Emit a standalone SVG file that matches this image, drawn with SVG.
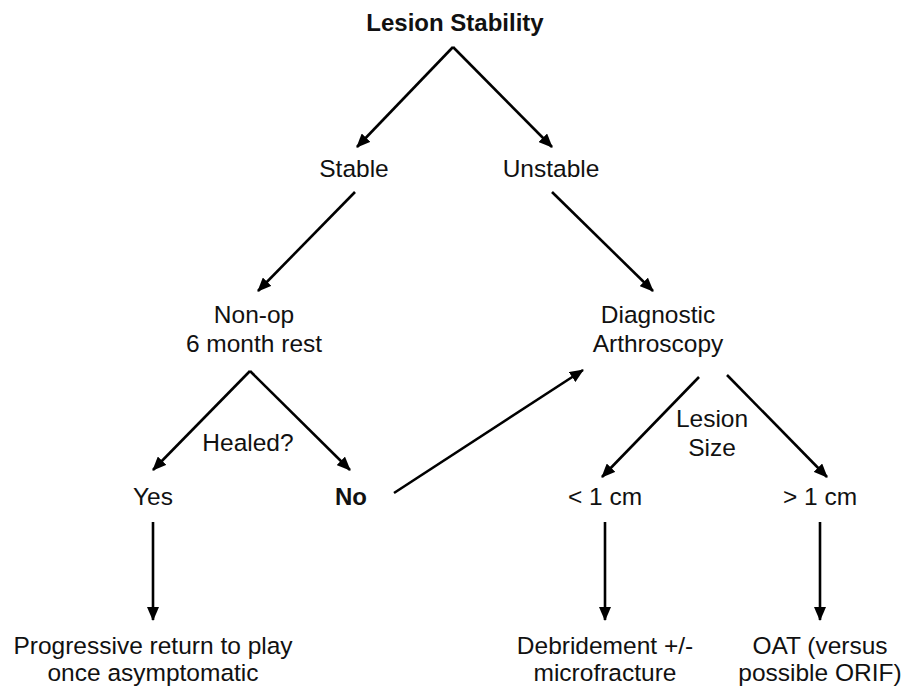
<svg xmlns="http://www.w3.org/2000/svg" width="905" height="686" viewBox="0 0 905 686">
<defs>
<marker id="ah" viewBox="0 0 14 12" refX="13" refY="6" markerWidth="14" markerHeight="12" markerUnits="userSpaceOnUse" orient="auto">
<path d="M0,0 L14,6 L0,12 Z" fill="#000"/>
</marker>
<style>
.t{font-family:"Liberation Sans",Arial,sans-serif;font-size:24.5px;fill:#111;text-anchor:middle}
.b{font-weight:bold;font-size:24px}
.c{stroke:#000;stroke-width:2.6;fill:none;marker-end:url(#ah)}
</style>
</defs>
<rect width="905" height="686" fill="#fff"/>
<g id="connectors">
<line class="c" x1="453" y1="47" x2="357" y2="147"/>
<line class="c" x1="453" y1="47" x2="552" y2="147"/>
<line class="c" x1="355" y1="192" x2="258" y2="291"/>
<line class="c" x1="552" y1="192" x2="653" y2="291"/>
<line class="c" x1="250" y1="371" x2="153" y2="470"/>
<line class="c" x1="250" y1="371" x2="350" y2="470"/>
<line class="c" x1="394" y1="493" x2="583" y2="370"/>
<line class="c" x1="699" y1="377" x2="602" y2="477"/>
<line class="c" x1="727" y1="375" x2="827" y2="477"/>
<line class="c" x1="153" y1="522" x2="153" y2="620"/>
<line class="c" x1="605" y1="522" x2="605" y2="620"/>
<line class="c" x1="820" y1="522" x2="820" y2="620"/>
</g>
<g id="lesion-stability"><text class="t b" x="455" y="31">Lesion Stability</text></g>
<g id="stable"><text class="t" x="354" y="177">Stable</text></g>
<g id="unstable"><text class="t" x="551" y="177">Unstable</text></g>
<g id="non-op"><text class="t" x="254" y="323">Non-op</text><text class="t" x="254" y="352">6 month rest</text></g>
<g id="diagnostic"><text class="t" x="658" y="323">Diagnostic</text><text class="t" x="658" y="352">Arthroscopy</text></g>
<g id="healed"><text class="t" x="248" y="451">Healed?</text></g>
<g id="lesion-size"><text class="t" x="712" y="427">Lesion</text><text class="t" x="712" y="456">Size</text></g>
<g id="yes"><text class="t" x="153" y="505">Yes</text></g>
<g id="no"><text class="t b" x="351" y="505">No</text></g>
<g id="lt1"><text class="t" x="605" y="505">&lt; 1 cm</text></g>
<g id="gt1"><text class="t" x="820" y="505">&gt; 1 cm</text></g>
<g id="progressive"><text class="t" x="153" y="654">Progressive return to play</text><text class="t" x="153" y="681">once asymptomatic</text></g>
<g id="debridement"><text class="t" x="605" y="654">Debridement +/-</text><text class="t" x="605" y="681">microfracture</text></g>
<g id="oat"><text class="t" x="820" y="654">OAT (versus</text><text class="t" x="820" y="681">possible ORIF)</text></g>
</svg>
